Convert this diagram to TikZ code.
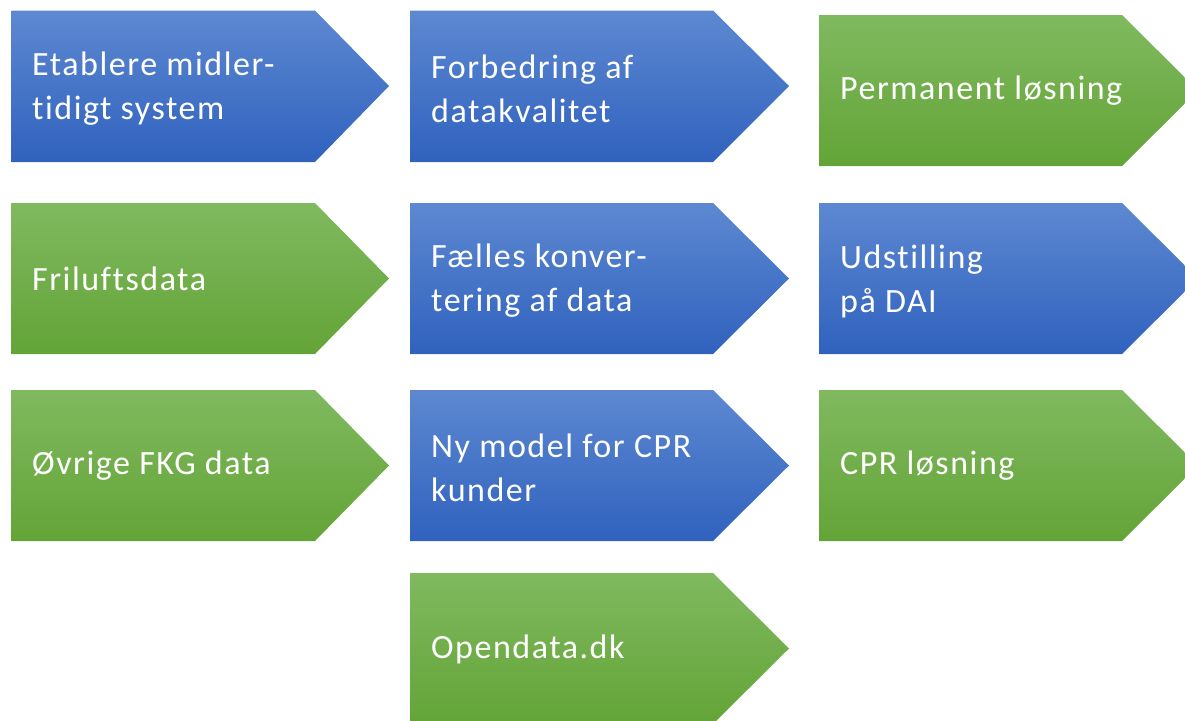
\documentclass[tikz,border=0pt]{standalone}
\usepackage{fontspec}
\setmainfont{Carlito}[LetterSpace=4.5,Ligatures=NoCommon]
\usepackage{tikz}

\definecolor{blatop}{RGB}{93,136,209}
\definecolor{blabund}{RGB}{48,98,190}
\definecolor{gronttop}{RGB}{128,185,95}
\definecolor{grontbund}{RGB}{99,164,55}

\begin{document}
\begin{tikzpicture}[x=1pt,y=-1pt]
			\tikzset{bla/.style={top color=blatop, bottom color=blabund},
				gron/.style={top color=gronttop, bottom color=grontbund},
				tekst/.style={anchor=west, inner sep=0pt, align=left, text=white,
					font=\fontsize{34}{44}\selectfont}}
			\useasboundingbox (0,0) rectangle (1185,720);
			% raekke 1
			\shade [bla] (11.5,10.5) -- (315,10.5) -- (389,86) -- (315,162) -- (11.5,162) -- cycle;
			\node [tekst] (etablere) at (32,89) {Etablere midler-\\tidigt system};
			\shade [bla] (410,10.5) -- (713,10.5) -- (789,86) -- (713,162) -- (410,162) -- cycle;
			\node [tekst] (forbedring) at (431,89) {Forbedring af\\datakvalitet};
			\shade [gron] (819,15) -- (1122,15) -- (1198,90.5) -- (1122,166) -- (819,166) -- cycle;
			\node [tekst] (permanent) at (840,91) {Permanent løsning};
			% raekke 2
			\shade [gron] (11.5,203) -- (315,203) -- (389,278.5) -- (315,354) -- (11.5,354) -- cycle;
			\node [tekst] (friluft) at (32,279) {Friluftsdata};
			\shade [bla] (410,203) -- (713,203) -- (789,278.5) -- (713,354) -- (410,354) -- cycle;
			\node [tekst] (faelles) at (431,281) {Fælles konver-\\tering af data};
			\shade [bla] (819,203) -- (1122,203) -- (1198,278.5) -- (1122,354) -- (819,354) -- cycle;
			\node [tekst] (udstilling) at (840,281) {Udstilling\\på DAI};
			% raekke 3
			\shade [gron] (11.5,390) -- (315,390) -- (389,465.5) -- (315,541) -- (11.5,541) -- cycle;
			\node [tekst] (ovrige) at (32,466) {Øvrige FKG data};
			\shade [bla] (410,390) -- (713,390) -- (789,465.5) -- (713,541) -- (410,541) -- cycle;
			\node [tekst] (nymodel) at (431,468) {Ny model for CPR\\kunder};
			\shade [gron] (819,390) -- (1122,390) -- (1198,465.5) -- (1122,541) -- (819,541) -- cycle;
			\node [tekst] (cpr) at (840,466) {CPR løsning};
			% raekke 4
			\shade [gron] (410,573) -- (713,573) -- (789,648.5) -- (713,724) -- (410,724) -- cycle;
			\node [tekst] (opendata) at (431,649) {Opendata.dk};
		\end{tikzpicture}
\end{document}
